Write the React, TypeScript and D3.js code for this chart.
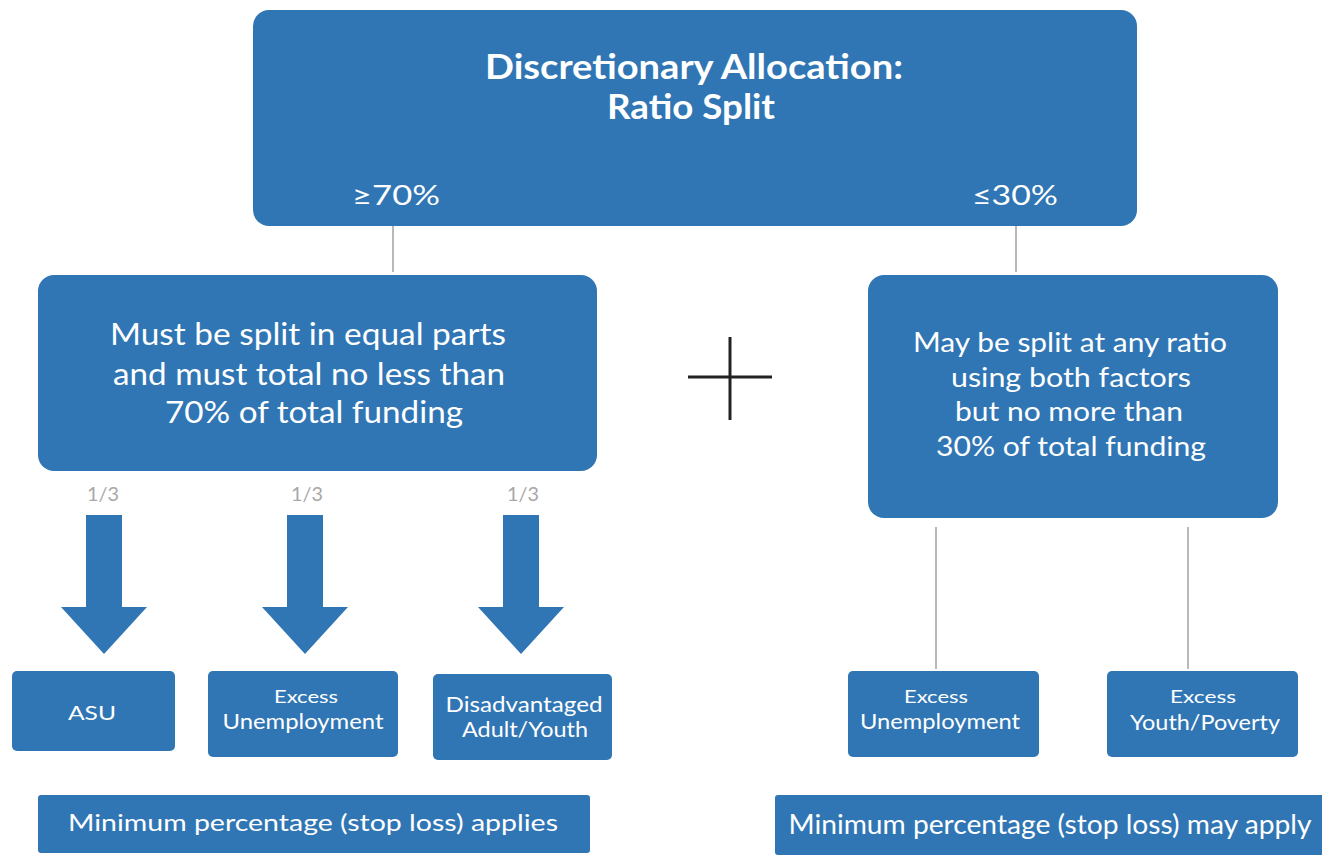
import React from "react";
import * as d3 from "d3";

// ---- content ----
const titleLines = ["Discretionary Allocation:", "Ratio Split"];
const splitLabels = ["≥70%", "≤30%"];
const leftBoxLines = ["Must be split in equal parts", "and must total no less than", "70% of total funding"];
const rightBoxLines = ["May be split at any ratio", "using both factors", "but no more than", "30% of total funding"];
const fractionLabels = ["1/3", "1/3", "1/3"];
const leftFactors = [["ASU"], ["Excess", "Unemployment"], ["Disadvantaged", "Adult/Youth"]];
const rightFactors = [["Excess", "Unemployment"], ["Excess", "Youth/Poverty"]];
const footers = ["Minimum percentage (stop loss) applies", "Minimum percentage (stop loss) may apply"];

// ---- layout ----
const W = 1322, H = 860;
const BLUE = "#3076b4";
const FONT = "Lato, 'Open Sans', sans-serif";

type Line = { t: string; x: number; y: number; w: number; fs: number; weight?: number; fill?: string };

const topBox = { x: 253, y: 10, w: 884, h: 216, r: 16 };
const leftBox = { x: 38, y: 275, w: 559, h: 196, r: 16 };
const rightBox = { x: 868, y: 275, w: 410, h: 243, r: 16 };
const leftFactorBoxes = [
  { x: 12, y: 671, w: 163, h: 80 },
  { x: 208, y: 671, w: 190, h: 86 },
  { x: 433, y: 674, w: 179, h: 86 },
];
const rightFactorBoxes = [
  { x: 848, y: 671, w: 191, h: 86 },
  { x: 1107, y: 671, w: 191, h: 86 },
];
const footerBoxes = [
  { x: 38, y: 795, w: 552, h: 58 },
  { x: 775, y: 795, w: 560, h: 60 },
];
const arrowX = [104, 305, 521];
const arrowGeom = { top: 515, neck: 607, tip: 654, shaft: 36, head: 86 };

const titleLayout = [
  { x: 694, y: 79, w: 418, fs: 34 },
  { x: 691, y: 119, w: 168, fs: 34 },
];
const splitLayout = [
  { x: 396, y: 205, w: 88, fs: 27 },
  { x: 1015, y: 205, w: 86, fs: 27 },
];
const leftBoxLayout = [
  { x: 308, y: 345, w: 396, fs: 30 },
  { x: 309, y: 385, w: 392, fs: 30 },
  { x: 314, y: 423, w: 298, fs: 30 },
];
const rightBoxLayout = [
  { x: 1070, y: 352, w: 314, fs: 26 },
  { x: 1071, y: 387, w: 240, fs: 26 },
  { x: 1069, y: 421, w: 228, fs: 26 },
  { x: 1071, y: 456, w: 270, fs: 26 },
];
const fractionLayout = [
  { x: 103, y: 501, w: 32 },
  { x: 307, y: 501, w: 32 },
  { x: 523, y: 501, w: 32 },
];
const leftFactorLayout = [
  [{ x: 92, y: 720, w: 48, fs: 20 }],
  [{ x: 306, y: 703, w: 64, fs: 18 }, { x: 303, y: 729, w: 161, fs: 21 }],
  [{ x: 524, y: 712, w: 157, fs: 21 }, { x: 525, y: 737, w: 126, fs: 21 }],
];
const rightFactorLayout = [
  [{ x: 936, y: 703, w: 64, fs: 18 }, { x: 940, y: 729, w: 160, fs: 21 }],
  [{ x: 1203, y: 703, w: 66, fs: 18 }, { x: 1205, y: 730, w: 150, fs: 21 }],
];
const footerLayout = [
  { x: 313, y: 831, w: 490, fs: 24 },
  { x: 1050, y: 834, w: 523, fs: 26 },
];

const connectors = [
  { x: 393, y1: 226, y2: 272 },
  { x: 1016, y1: 226, y2: 272 },
  { x: 936, y1: 527, y2: 669 },
  { x: 1188, y1: 527, y2: 669 },
];
const plus = { cx: 730, cy: 377, hw: 42, vtop: 337, vbot: 420 };

function T({ t, x, y, w, fs, weight = 400, fill = "#ffffff" }: Line) {
  return (
    <text
      x={x}
      y={y}
      textAnchor="middle"
      fontFamily={FONT}
      fontSize={fs}
      fontWeight={weight}
      fill={fill}
      textLength={w}
      lengthAdjust="spacingAndGlyphs"
    >
      {t}
    </text>
  );
}

function arrowPath(cx: number) {
  const g = arrowGeom;
  const line = d3.line();
  const pts: [number, number][] = [
    [cx - g.shaft / 2, g.top],
    [cx + g.shaft / 2, g.top],
    [cx + g.shaft / 2, g.neck],
    [cx + g.head / 2, g.neck],
    [cx, g.tip],
    [cx - g.head / 2, g.neck],
    [cx - g.shaft / 2, g.neck],
  ];
  return line(pts) + "Z";
}

export default function App() {
  return (
    <svg
      width={W}
      height={H}
      style={{ position: "absolute", left: 0, top: 0, background: "#ffffff" }}
    >
      {connectors.map((c, i) => (
        <line key={"c" + i} x1={c.x} x2={c.x} y1={c.y1} y2={c.y2} stroke="#b8b8b8" strokeWidth={2} />
      ))}

      <rect x={topBox.x} y={topBox.y} width={topBox.w} height={topBox.h} rx={topBox.r} fill={BLUE} />
      {titleLines.map((t, i) => (
        <T key={"t" + i} t={t} {...titleLayout[i]} weight={700} />
      ))}
      {splitLabels.map((t, i) => (
        <T key={"s" + i} t={t} {...splitLayout[i]} />
      ))}

      <rect x={leftBox.x} y={leftBox.y} width={leftBox.w} height={leftBox.h} rx={leftBox.r} fill={BLUE} />
      {leftBoxLines.map((t, i) => (
        <T key={"l" + i} t={t} {...leftBoxLayout[i]} />
      ))}

      <rect x={rightBox.x} y={rightBox.y} width={rightBox.w} height={rightBox.h} rx={rightBox.r} fill={BLUE} />
      {rightBoxLines.map((t, i) => (
        <T key={"r" + i} t={t} {...rightBoxLayout[i]} />
      ))}

      <line x1={plus.cx - plus.hw} x2={plus.cx + plus.hw} y1={plus.cy} y2={plus.cy} stroke="#222" strokeWidth={3} />
      <line x1={plus.cx} x2={plus.cx} y1={plus.vtop} y2={plus.vbot} stroke="#222" strokeWidth={3} />

      {fractionLabels.map((t, i) => (
        <T key={"f" + i} t={t} {...fractionLayout[i]} fs={19} fill="#a8a8a8" />
      ))}
      {arrowX.map((x, i) => (
        <path key={"a" + i} d={arrowPath(x)} fill={BLUE} />
      ))}

      {leftFactors.map((lines, i) => {
        const b = leftFactorBoxes[i];
        return (
          <g key={"lf" + i}>
            <rect x={b.x} y={b.y} width={b.w} height={b.h} rx={5} fill={BLUE} />
            {lines.map((t, j) => (
              <T key={j} t={t} {...leftFactorLayout[i][j]} />
            ))}
          </g>
        );
      })}
      {rightFactors.map((lines, i) => {
        const b = rightFactorBoxes[i];
        return (
          <g key={"rf" + i}>
            <rect x={b.x} y={b.y} width={b.w} height={b.h} rx={5} fill={BLUE} />
            {lines.map((t, j) => (
              <T key={j} t={t} {...rightFactorLayout[i][j]} />
            ))}
          </g>
        );
      })}

      {footers.map((t, i) => {
        const b = footerBoxes[i];
        return (
          <g key={"ft" + i}>
            <rect x={b.x} y={b.y} width={b.w} height={b.h} rx={3} fill={BLUE} />
            <T t={t} {...footerLayout[i]} />
          </g>
        );
      })}
    </svg>
  );
}
